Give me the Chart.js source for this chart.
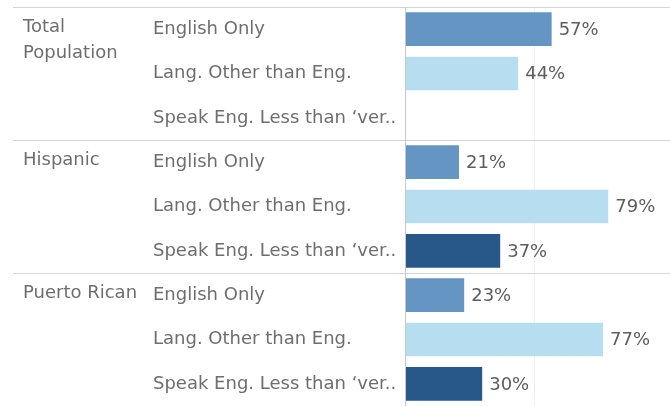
<!DOCTYPE html>
<html>
<head>
<meta charset="utf-8">
<script src="https://cdn.jsdelivr.net/npm/chart.js@4.4.1/dist/chart.umd.min.js"></script>
<style>
  html, body { margin: 0; padding: 0; background: #ffffff; }
  #wrap { width: 670px; height: 406px; position: relative; }
</style>
</head>
<body>
<div id="wrap"><canvas id="myChart"></canvas></div>
<script>
// grupos y categorias
var grupos = [["Total", "Population"], ["Hispanic"], ["Puerto Rican"]];
var categorias = ["English Only", "Lang. Other than Eng.", "Speak Eng. Less than \u2018ver.."];

// porcentajes por grupo (null = sin dato)
var totalPoblacion = [57, 44, null];
var hispanos = [21, 79, 37];
var puertorriquenos = [23, 77, 30];

var colores = ["#6596c3", "#b7ddf1", "#28588a"];

var etiquetas = [];
var valores = [];
var coloresBarras = [];
[totalPoblacion, hispanos, puertorriquenos].forEach(function (serie) {
  serie.forEach(function (v, i) {
    etiquetas.push(categorias[i]);
    valores.push(v);
    coloresBarras.push(colores[i]);
  });
});

var fuente = "'DejaVu Sans', sans-serif";
var colorTexto = "#6e6e6e";

// lineas, etiquetas de grupo y de valor
var pluginTabla = {
  id: "tabla",
  beforeDatasetsDraw: function (chart) {
    var ctx = chart.ctx;
    var x = chart.scales.x;
    var area = chart.chartArea;
    ctx.save();
    // linea de 50%
    ctx.strokeStyle = "#f0f0f0";
    ctx.lineWidth = 1;
    var x50 = Math.round(x.getPixelForValue(50)) + 0.5;
    ctx.beginPath();
    ctx.moveTo(x50, area.top);
    ctx.lineTo(x50, area.bottom);
    ctx.stroke();
    ctx.restore();
  },
  afterDatasetsDraw: function (chart) {
    var ctx = chart.ctx;
    var y = chart.scales.y;
    var area = chart.chartArea;
    var paso = y.getPixelForValue(1) - y.getPixelForValue(0);
    ctx.save();
    // separadores horizontales
    ctx.strokeStyle = "#d4d4d4";
    ctx.lineWidth = 1;
    for (var g = 0; g < grupos.length; g++) {
      var yy = Math.round(y.getPixelForValue(g * categorias.length) - paso / 2) + 0.5;
      ctx.beginPath();
      ctx.moveTo(13, yy);
      ctx.lineTo(chart.width, yy);
      ctx.stroke();
    }
    // eje vertical
    ctx.strokeStyle = "#c8c8c8";
    var xa = Math.round(area.left) + 0.5;
    ctx.beginPath();
    ctx.moveTo(xa, area.top);
    ctx.lineTo(xa, area.bottom);
    ctx.stroke();

    // etiquetas de grupo
    ctx.fillStyle = colorTexto;
    ctx.font = "18px " + fuente;
    ctx.textAlign = "left";
    ctx.textBaseline = "middle";
    grupos.forEach(function (lineas, g) {
      var y0 = y.getPixelForValue(g * categorias.length) - 2;
      lineas.forEach(function (linea, k) {
        ctx.fillText(linea, 23, y0 + k * 26);
      });
    });

    // etiquetas de valor
    var meta = chart.getDatasetMeta(0);
    ctx.fillStyle = "#5e5e5e";
    meta.data.forEach(function (barra, i) {
      var v = valores[i];
      if (v === null) return;
      ctx.fillText(v + "%", barra.x + 7, barra.y + 1);
    });
    ctx.restore();
  }
};

var ctx = document.getElementById("myChart").getContext("2d");
new Chart(ctx, {
  type: "bar",
  data: {
    labels: etiquetas,
    datasets: [{
      data: valores,
      backgroundColor: coloresBarras,
      borderWidth: 0,
      barPercentage: 0.76,
      categoryPercentage: 1
    }]
  },
  options: {
    indexAxis: "y",
    responsive: true,
    maintainAspectRatio: false,
    animation: false,
    layout: { padding: { left: 153, top: 7, right: 0, bottom: 0 } },
    plugins: {
      legend: { display: false },
      tooltip: { enabled: false },
      title: { display: false }
    },
    scales: {
      x: {
        min: 0,
        max: 103,
        display: false
      },
      y: {
        grid: { display: false, drawTicks: false },
        border: { display: false },
        ticks: {
          crossAlign: "far",
          padding: 0,
          color: colorTexto,
          font: { size: 18, family: fuente }
        },
        afterFit: function (scale) {
          scale.width = 252;
          scale.paddingTop = 0;
          scale.paddingBottom = 0;
        }
      }
    }
  },
  plugins: [pluginTabla]
});
</script>
</body>
</html>
